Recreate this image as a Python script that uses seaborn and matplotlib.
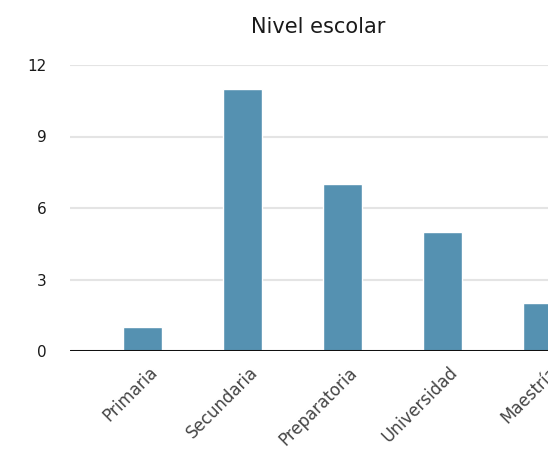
import matplotlib
matplotlib.use("Agg")
import matplotlib.pyplot as plt
import matplotlib.transforms as mtransforms
import seaborn as sns
import pandas as pd

categorias = ["Primaria", "Secundaria", "Preparatoria", "Universidad", "Maestría"]
valores = [1, 11, 7, 5, 2]
ticks_y = [0, 3, 6, 9, 12]

sns.set_theme(style="white")
plt.rcParams["font.family"] = ["DejaVu Sans"]

df = pd.DataFrame({"nivel": categorias, "cantidad": valores})

fig = plt.figure(figsize=(5.48, 4.54), dpi=100)
ax = fig.add_axes([70 / 548, 103 / 454, 1 - 70 / 548, (351 - 65) / 454])

sns.barplot(data=df, x="nivel", y="cantidad", color="#5591b1", saturation=1,
            width=0.395, ax=ax, zorder=3)

ax.set_xlim(-0.725, 4.055)
ax.set_ylim(0, 12)
ax.set_yticks(ticks_y)
ax.set_yticklabels([str(t) for t in ticks_y], fontsize=11, color="#1a1a1a")
for t in ticks_y[1:]:
    ax.axhline(t, color="#e4e4e4", linewidth=1.5, zorder=1)
ax.axhline(0, color="#111111", linewidth=2.2, zorder=4)

ax.set_xticks(range(len(categorias)))
ax.set_xticklabels(categorias, rotation=45, ha="right", rotation_mode="anchor",
                   fontsize=12, color="#444444")
ax.tick_params(axis="x", length=0, pad=9)
ax.tick_params(axis="y", length=0, pad=17)

# nudge the slanted category labels a little to the right
shift = mtransforms.ScaledTranslation(6 / 100, 0, fig.dpi_scale_trans)
for lbl in ax.get_xticklabels():
    lbl.set_transform(lbl.get_transform() + shift)

ax.set_xlabel("")
ax.set_ylabel("")
sns.despine(ax=ax, left=True, bottom=True, right=True, top=True)

fig.text(318 / 548, 1 - 33 / 454, "Nivel escolar", ha="center", va="baseline",
         fontsize=15, color="#1a1a1a")

fig.savefig("out.png", dpi=100)
